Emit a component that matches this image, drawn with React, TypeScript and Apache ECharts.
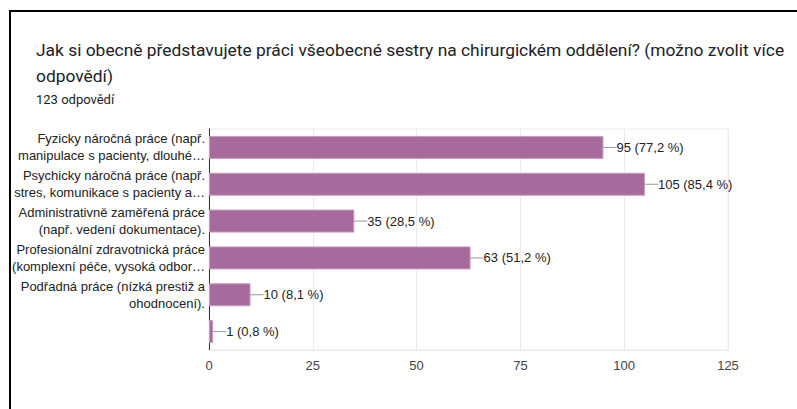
import React, { useEffect, useRef } from "react";
import * as echarts from "echarts";

const categories = [
  "Fyzicky náročná práce (např.\nmanipulace s pacienty, dlouhé…",
  "Psychicky náročná práce (např.\nstres, komunikace s pacienty a…",
  "Administrativně zaměřená práce\n(např. vedení dokumentace).",
  "Profesionální zdravotnická práce\n(komplexní péče, vysoká odbor…",
  "Podřadná práce (nízká prestiž a\nohodnocení).",
  "",
];
const counts = [95, 105, 35, 63, 10, 1];
const percents = ["77,2", "85,4", "28,5", "51,2", "8,1", "0,8"];
const xTicks = [0, 25, 50, 75, 100, 125];

const titleText =
  "Jak si obecně představujete práci všeobecné sestry na chirurgickém oddělení? (možno zvolit více\nodpovědí)";
const subtitleText = "123 odpovědí";

export default function App() {
  const ref = useRef<HTMLDivElement>(null);
  useEffect(() => {
    if (!ref.current) return;
    const chart = echarts.init(ref.current, null, { renderer: "svg" });
    chart.setOption({
      animation: false,
      backgroundColor: "#ffffff",
      title: [
        {
          text: titleText,
          left: 31,
          top: 32,
          textStyle: {
            fontFamily: "Roboto",
            fontSize: 17.4,
            fontWeight: "normal",
            color: "#202124",
            lineHeight: 26,
          },
        },
        {
          text: subtitleText,
          left: 31,
          top: 88,
          textStyle: {
            fontFamily: "Roboto",
            fontSize: 13,
            fontWeight: "normal",
            color: "#202124",
          },
        },
      ],
      graphic: [
        {
          type: "line",
          shape: { x1: 10, y1: 10, x2: 10, y2: 409 },
          style: { stroke: "#000", lineWidth: 2 },
        },
        {
          type: "line",
          shape: { x1: 9, y1: 11, x2: 797, y2: 11 },
          style: { stroke: "#000", lineWidth: 2 },
        },
      ],
      grid: {
        left: 209,
        top: 129,
        width: 519,
        height: 221,
        show: true,
        borderColor: "#ebebeb",
        borderWidth: 1,
        containLabel: false,
      },
      xAxis: {
        type: "value",
        min: xTicks[0],
        max: xTicks[xTicks.length - 1],
        interval: 25,
        axisLine: { show: true, lineStyle: { color: "#ebebeb" } },
        axisTick: { show: false },
        splitLine: { show: true, lineStyle: { color: "#ebebeb" } },
        axisLabel: {
          color: "#444444",
          fontFamily: "Liberation Sans, Arial",
          fontSize: 13,
          margin: 9,
        },
      },
      yAxis: {
        type: "category",
        data: categories,
        inverse: true,
        axisLine: { show: true, lineStyle: { color: "#333333" } },
        axisTick: { show: false },
        axisLabel: {
          color: "#222222",
          fontFamily: "Liberation Sans, Arial",
          fontSize: 13,
          lineHeight: 17,
          margin: 4,
          align: "right",
        },
      },
      series: [
        {
          type: "bar",
          data: counts,
          barWidth: 23,
          itemStyle: { color: "#a66b9c", borderColor: "#c79cc0", borderWidth: 1 },
          label: {
            show: true,
            position: "right",
            distance: 0,
            color: "#222222",
            fontFamily: "Liberation Sans, Arial",
            fontSize: 13,
            formatter: (p: any) => `${counts[p.dataIndex]} (${percents[p.dataIndex]} %)`,
          },
          labelLayout: { dx: 13 },
          labelLine: { show: true, lineStyle: { color: "#999999", width: 1 } },
        },
      ],
    });
    return () => chart.dispose();
  }, []);
  return (
    <div
      ref={ref}
      style={{ position: "absolute", left: 0, top: 0, width: 797, height: 409 }}
    />
  );
}
